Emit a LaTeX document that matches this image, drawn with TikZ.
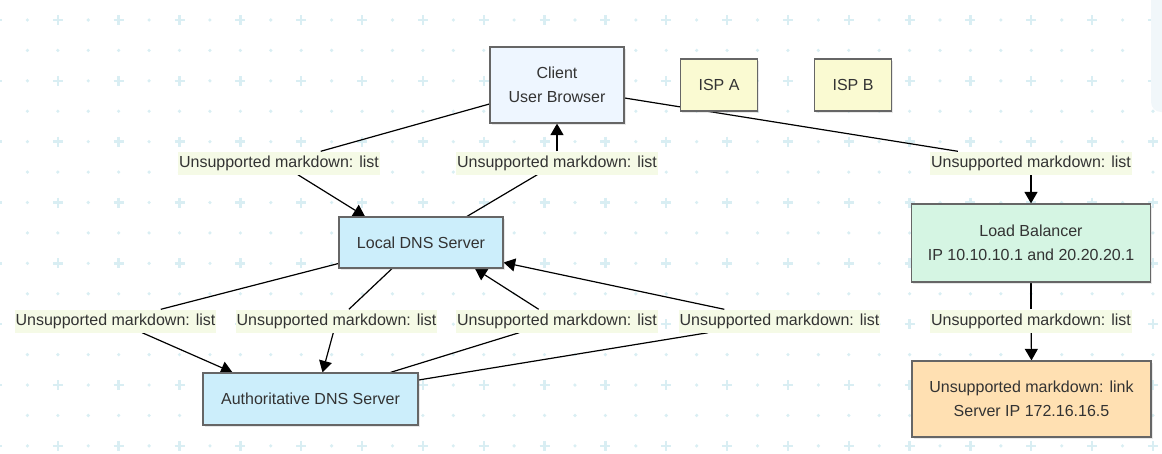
\documentclass[tikz,border=0pt]{standalone}
\usepackage{fontspec}
\setmainfont{Liberation Sans}
\usetikzlibrary{arrows.meta,shadows}

\definecolor{txt}{HTML}{333333}
\definecolor{boxline}{HTML}{666666}
\definecolor{lblbg}{HTML}{F5FAE6}
\definecolor{gridc}{HTML}{D9EEF3}
\definecolor{panel}{HTML}{F1F7FA}
\definecolor{clientfill}{HTML}{EEF6FF}
\definecolor{ispfill}{HTML}{FAFAD2}
\definecolor{dnsfill}{HTML}{CCEEFB}
\definecolor{lbfill}{HTML}{D5F5E3}
\definecolor{srvfill}{HTML}{FFE0B2}

\pgfdeclarelayer{grid}
\pgfdeclarelayer{links}
\pgfsetlayers{grid,links,main}

\begin{document}
\begin{tikzpicture}[x=1pt,y=-1pt,
    box/.style={draw=boxline, line width=1.2pt, text=txt, align=center,
      font=\fontsize{16}{24}\selectfont,
      drop shadow={opacity=0.18, shadow xshift=1.5pt, shadow yshift=-1.5pt}},
    lbl/.style={fill=lblbg, text=txt, font=\fontsize{16}{19}\selectfont,
      inner xsep=1pt, inner ysep=0pt, minimum height=23pt}]

  \useasboundingbox (0,0) rectangle (1162,453);

  % dotted background
  \begin{pgfonlayer}{grid}
    \foreach \i in {0,...,38}
      \foreach \j in {0,...,14} {
        \pgfmathtruncatemacro\odd{mod(\i,2)+mod(\j,2)}
        \ifnum\odd=0
          \draw[gridc, line width=2.4pt] (-3+30.42*\i-5, 20+30.42*\j) -- ++(10,0)
                                         (-3+30.42*\i, 20+30.42*\j-5) -- ++(0,10);
        \else
          \fill[gridc] (-3+30.42*\i, 20+30.42*\j) circle (1.8);
        \fi
      }
    \fill[panel, rounded corners=10pt] (1151,-20) rectangle (1185,112);
  \end{pgfonlayer}

  \begin{scope}[every node/.style={box}]
    \node[fill=clientfill, minimum width=134pt, minimum height=76pt] (client) at (557,85)  {Client\\User Browser};
    \node[fill=ispfill, minimum width=77pt, minimum height=52pt]     (ispa)   at (719,85)  {ISP A};
    \node[fill=ispfill, minimum width=77pt, minimum height=52pt]     (ispb)   at (853,85)  {ISP B};
    \node[fill=dnsfill, minimum width=164pt, minimum height=51pt]    (ldns)   at (421,242.5) {Local DNS Server};
    \node[fill=dnsfill, minimum width=215pt, minimum height=52pt]    (auth)   at (310.5,399) {Authoritative DNS Server};
    \node[fill=lbfill, minimum width=239pt, minimum height=78pt]     (lb)     at (1031,243) {Load Balancer\\IP 10.10.10.1 and 20.20.20.1};
    \node[fill=srvfill, minimum width=239pt, minimum height=76pt]    (srv)    at (1031.5,399) {Unsupported markdown: link\\Server IP 172.16.16.5};
  \end{scope}

  \begin{scope}[every node/.style={lbl}]
    \node (l1) at (279,163)   {Unsupported markdown: list};
    \node (l2) at (557,163)   {Unsupported markdown: list};
    \node (l3) at (1031,163)  {Unsupported markdown: list};
    \node (l4) at (115.5,321) {Unsupported markdown: list};
    \node (l5) at (336.5,321) {Unsupported markdown: list};
    \node (l6) at (557,321)   {Unsupported markdown: list};
    \node (l7) at (779.5,321) {Unsupported markdown: list};
    \node (l8) at (1031,321)  {Unsupported markdown: list};
  \end{scope}

  \begin{pgfonlayer}{links}
    \begin{scope}[every edge/.style={draw, line width=1.2pt},
                  >={Triangle[length=11.5pt,width=13pt]}]
      \path ([yshift=-19pt]client.west) edge (l1);
      \path (l1) edge[->] ([xshift=-56pt]ldns.north);
      \path ([xshift=46pt]ldns.north) edge (l2);
      \path (l2) edge[->] (client.south);
      \path ([yshift=-13pt]client.east) edge (l3);
      \path (l3) edge[->] (lb.north);
      \path ([yshift=-21pt]ldns.west) edge (l4);
      \path (l4) edge[->] ([xshift=-78pt]auth.north);
      \path ([xshift=-29pt]ldns.south) edge (l5);
      \path (l5) edge[->] ([xshift=12pt]auth.north);
      \path ([xshift=80pt]auth.north) edge (l6);
      \path (l6) edge[->] ([xshift=54pt]ldns.south);
      \path ([yshift=19pt]auth.east) edge (l7);
      \path (l7) edge[->] ([yshift=-20pt]ldns.east);
      \path (lb.south) edge (l8);
      \path (l8) edge[->] (srv.north);
    \end{scope}
  \end{pgfonlayer}

\end{tikzpicture}
\end{document}
